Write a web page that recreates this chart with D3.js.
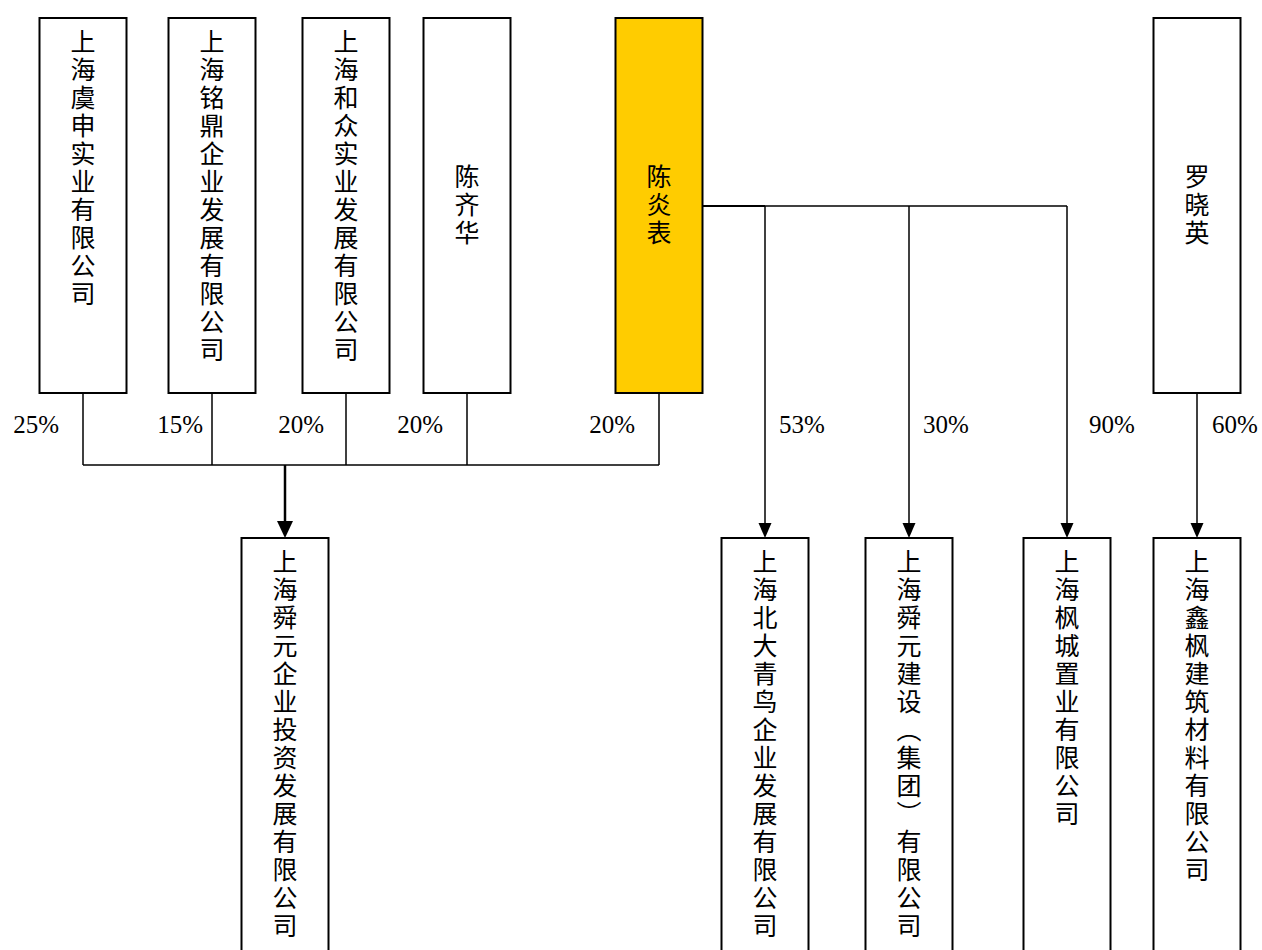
<!DOCTYPE html>
<html>
<head>
<meta charset="utf-8">
<script src="https://cdn.jsdelivr.net/npm/d3@7"></script>
<style>
  body { margin: 0; background: #fff; }
  svg { display: block; }
  .name { font-family: "Noto Sans CJK SC", sans-serif; font-size: 25px; writing-mode: vertical-rl; letter-spacing: 3px; }
  .pct { font-family: "Liberation Serif", serif; font-size: 25px; }
</style>
</head>
<body>
<svg width="1262" height="950"></svg>
<script>
// shareholders (top row) and companies (bottom row)
var topNames = ["上海虞申实业有限公司", "上海铭鼎企业发展有限公司", "上海和众实业发展有限公司", "陈齐华", "陈炎表", "罗晓英"];
var bottomNames = ["上海舜元企业投资发展有限公司", "上海北大青鸟企业发展有限公司", "上海舜元建设（集团）有限公司", "上海枫城置业有限公司", "上海鑫枫建筑材料有限公司"];

// holdings in 上海舜元企业投资发展有限公司
var jointOwners = ["上海虞申实业有限公司", "上海铭鼎企业发展有限公司", "上海和众实业发展有限公司", "陈齐华", "陈炎表"];
var jointShares = [25, 15, 20, 20, 20];

// 陈炎表's own holdings
var chenTargets = ["上海北大青鸟企业发展有限公司", "上海舜元建设（集团）有限公司", "上海枫城置业有限公司"];
var chenShares = [53, 30, 90];

// 罗晓英
var luoTargets = ["上海鑫枫建筑材料有限公司"];
var luoShares = [60];

var highlight = "陈炎表";

// ---- layout ----
var svg = d3.select("svg");
var boxW = 87;
var topY = 18, topH = 375;
var botY = 538, botH = 430;
var busY = 465;        // joint connector
var chenBusY = 206;    // 陈炎表 connector
var pctY = 433;

var topX = d3.scaleOrdinal().domain(topNames).range([83, 212, 346, 467, 659, 1197]);
var botX = d3.scaleOrdinal().domain(bottomNames).range([285, 765, 909, 1067, 1197]);

var jointLabelX = d3.scaleOrdinal().domain(jointOwners).range([59, 203, 324, 443, 635]);

function arrow(g, x, tipY, w, h) {
    g.append("path")
        .attr("d", "M" + (x - w / 2) + "," + (tipY - h) + "L" + (x + w / 2) + "," + (tipY - h) + "L" + x + "," + tipY + "Z")
        .attr("fill", "#000");
}

var links = svg.append("g").attr("id", "links");

// joint ownership lines
jointOwners.forEach(function(n) {
    links.append("line")
        .attr("x1", topX(n)).attr("x2", topX(n))
        .attr("y1", topY + topH).attr("y2", busY)
        .attr("stroke", "#000").attr("stroke-width", 1.5);
});
links.append("line")
    .attr("x1", d3.min(jointOwners, topX)).attr("x2", d3.max(jointOwners, topX))
    .attr("y1", busY).attr("y2", busY)
    .attr("stroke", "#000").attr("stroke-width", 1.5);

var jointTarget = bottomNames[0];
links.append("line")
    .attr("x1", botX(jointTarget)).attr("x2", botX(jointTarget))
    .attr("y1", busY).attr("y2", botY - 14)
    .attr("stroke", "#000").attr("stroke-width", 2.5);
arrow(links, botX(jointTarget), botY, 16, 17);

svg.append("g").selectAll("text")
    .data(jointOwners)
    .enter().append("text")
    .attr("class", "pct")
    .attr("x", function(d) { return jointLabelX(d); })
    .attr("y", pctY)
    .attr("text-anchor", "end")
    .text(function(d, i) { return jointShares[i] + "%"; });

// 陈炎表 lines
var chenRight = topX(highlight) + boxW / 2;
links.append("line")
    .attr("x1", chenRight).attr("x2", d3.max(chenTargets, botX))
    .attr("y1", chenBusY).attr("y2", chenBusY)
    .attr("stroke", "#000").attr("stroke-width", 1.5);
links.append("line")
    .attr("x1", chenRight).attr("x2", botX(chenTargets[0]))
    .attr("y1", chenBusY).attr("y2", chenBusY)
    .attr("stroke", "#000").attr("stroke-width", 2);

var chenLabelDx = [14, 14, 22];
chenTargets.forEach(function(t, i) {
    var x = botX(t);
    links.append("line")
        .attr("x1", x).attr("x2", x)
        .attr("y1", chenBusY).attr("y2", botY - 12)
        .attr("stroke", "#000").attr("stroke-width", 1.5);
    arrow(links, x, botY, 13, 15);
    svg.append("text").attr("class", "pct")
        .attr("x", x + chenLabelDx[i]).attr("y", pctY)
        .text(chenShares[i] + "%");
});

// 罗晓英 line
luoTargets.forEach(function(t, i) {
    var x = botX(t);
    links.append("line")
        .attr("x1", x).attr("x2", x)
        .attr("y1", topY + topH).attr("y2", botY - 12)
        .attr("stroke", "#000").attr("stroke-width", 1.5);
    arrow(links, x, botY, 13, 15);
    svg.append("text").attr("class", "pct")
        .attr("x", x + 15).attr("y", pctY)
        .text(luoShares[i] + "%");
});

// boxes
function drawBoxes(names, xScale, y, h) {
    var g = svg.append("g").selectAll("g")
        .data(names)
        .enter().append("g");
    g.append("rect")
        .attr("x", function(d) { return xScale(d) - boxW / 2; })
        .attr("y", y)
        .attr("width", boxW)
        .attr("height", h)
        .attr("fill", function(d) { return d === highlight ? "#FFCC00" : "#fff"; })
        .attr("stroke", "#000")
        .attr("stroke-width", 2);
    g.append("text")
        .attr("class", "name")
        .attr("x", function(d) { return xScale(d); })
        .attr("y", function(d) { return d.length <= 3 ? y + h / 2 : y + 11; })
        .attr("text-anchor", function(d) { return d.length <= 3 ? "middle" : "start"; })
        .text(function(d) { return d; });
}
drawBoxes(topNames, topX, topY, topH);
drawBoxes(bottomNames, botX, botY, botH);
</script>
</body>
</html>
